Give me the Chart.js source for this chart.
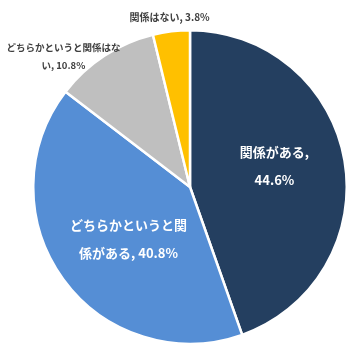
<!DOCTYPE html>
<html>
<head>
<meta charset="utf-8">
<script src="https://cdn.jsdelivr.net/npm/chart.js@4"></script>
<style>
    html, body { margin: 0; padding: 0; background: #fff; }
    #wrap { width: 358px; height: 352px; }
</style>
</head>
<body>
<div id="wrap"><canvas id="pieChart"></canvas></div>
<script>
// Chart data
const categories = ['関係がある', 'どちらかというと関係がある', 'どちらかというと関係はない', '関係はない'];
const shares = [44.6, 40.8, 10.8, 3.8];
const sliceColors = ['#243F60', '#558ED5', '#BFBFBF', '#FFC000'];

const FONT = '"Noto Sans CJK JP", "Noto Sans", sans-serif';

// label placement per slice: inside or outside, distance as fraction of radius, wrap width
const labelStyle = [
    { inside: true, dist: 0.555, angle: -4.2, wrap: 84, size: 13 },
    { inside: true, dist: 0.516, angle: -4.5, wrap: 120, size: 13 },
    { inside: false, dist: 1.16, angle: -11, wrap: 118, size: 9.5 },
    { inside: false, dist: 1.09, angle: 0, wrap: 200, size: 10 }
];

// split into tokens: CJK chars one by one, latin runs kept together
function tokenize(text) {
    return text.match(/[A-Za-z0-9.%]+|\s|./g) || [];
}

function wrapText(ctx, text, maxWidth) {
    const lines = [];
    let line = '';
    tokenize(text).forEach(tok => {
        const test = line + tok;
        if (ctx.measureText(test.trim()).width > maxWidth && line.trim() !== '') {
            lines.push(line.trim());
            line = tok.trim() === '' ? '' : tok;
        } else {
            line = test;
        }
    });
    if (line.trim() !== '') lines.push(line.trim());
    return lines;
}

const sliceLabels = {
    id: 'sliceLabels',
    afterDatasetsDraw(chart) {
        const ctx = chart.ctx;
        const meta = chart.getDatasetMeta(0);
        meta.data.forEach((arc, i) => {
            const st = labelStyle[i];
            const mid = (arc.startAngle + arc.endAngle) / 2 + st.angle * Math.PI / 180;
            const r = arc.outerRadius * st.dist;
            const cx = arc.x + Math.cos(mid) * r;
            const cy = arc.y + Math.sin(mid) * r;
            const text = categories[i] + ', ' + shares[i].toFixed(1) + '%';

            ctx.save();
            ctx.font = 'bold ' + st.size + 'px ' + FONT;
            ctx.fillStyle = st.inside ? '#ffffff' : '#404040';
            ctx.textAlign = 'center';
            ctx.textBaseline = 'middle';
            const lines = wrapText(ctx, text, st.wrap);
            const lh = st.inside ? 28 : 18;
            const top = cy - (lines.length - 1) * lh / 2;
            lines.forEach((ln, k) => ctx.fillText(ln, cx, top + k * lh));
            ctx.restore();
        });
    }
};

new Chart(document.getElementById('pieChart'), {
    type: 'pie',
    data: {
        labels: categories,
        datasets: [{
            data: shares,
            backgroundColor: sliceColors,
            borderColor: '#ffffff',
            borderWidth: 2.5
        }]
    },
    options: {
        responsive: true,
        maintainAspectRatio: false,
        animation: false,
        layout: { padding: { left: 32, right: 10, top: 29, bottom: 7 } },
        plugins: {
            legend: { display: false },
            tooltip: { enabled: false }
        }
    },
    plugins: [sliceLabels]
});
</script>
</body>
</html>
